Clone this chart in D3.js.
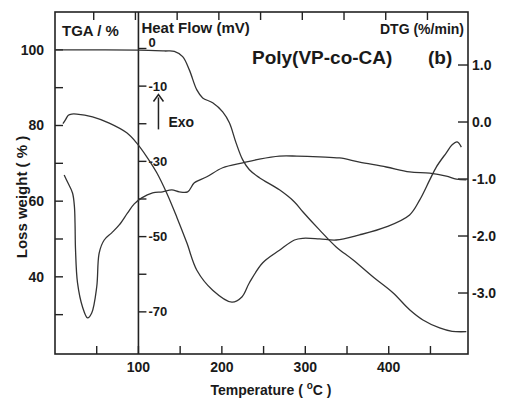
<!DOCTYPE html>
<html>
<head>
<meta charset="utf-8">
<script src="https://cdn.jsdelivr.net/npm/d3@7"></script>
<style>
  body { margin: 0; background: #fff; }
  text { font-family: "Liberation Sans", Arial, sans-serif; font-weight: bold; fill: #1a1a1a; }
</style>
</head>
<body>
<svg id="chart" width="514" height="399"></svg>
<script>
// TGA (loss weight, %)
const tgaTemp = [0, 60, 100, 131, 143, 153, 161, 170, 177, 189, 201, 209, 217, 225, 233, 245, 269, 287, 297, 317, 337, 357, 381, 405, 425, 441, 461, 476, 493];
const tgaWeight = [100, 100, 99.9, 99.7, 99.6, 98.2, 94.7, 89.4, 87.3, 86.0, 83.6, 80.7, 75.4, 70.9, 68.3, 66.2, 63.0, 59.8, 57.2, 52.4, 47.9, 44.5, 40.0, 35.8, 31.3, 28.6, 26.5, 25.6, 25.5];

// DTG (%/min)
const dtgTemp = [9.5, 13, 16, 20, 26, 45, 65, 86, 98, 110, 122, 134, 146, 158, 170, 189, 212, 224, 233, 249, 269, 287, 297, 317, 337, 365, 397, 425, 437, 449, 457, 469, 476, 482, 487];
const dtgRate = [-0.03, 0.05, 0.12, 0.14, 0.14, 0.09, -0.02, -0.19, -0.37, -0.61, -0.89, -1.25, -1.67, -2.12, -2.60, -2.95, -3.16, -3.07, -2.82, -2.47, -2.25, -2.07, -2.04, -2.05, -2.07, -1.98, -1.84, -1.63, -1.37, -1.02, -0.79, -0.54, -0.40, -0.35, -0.44];

// Heat flow (mV)
const dscTemp = [11, 15, 21, 23.3, 24, 24.6, 27, 33, 39, 44, 50, 53, 59, 68, 77, 87, 95, 104, 117, 129, 140, 149, 159, 167, 182, 201, 225, 245, 269, 290, 317, 341, 365, 397, 425, 449, 469, 481, 493];
const dscHeat = [-33.6, -35.5, -38.4, -42.1, -46.4, -53.5, -62.3, -68.7, -71.6, -70.3, -63.4, -54.3, -50.9, -49.0, -46.9, -43.7, -41.3, -39.7, -38.4, -38.1, -37.6, -38.1, -38.1, -35.7, -34.1, -31.7, -30.4, -29.4, -28.6, -28.6, -28.8, -29.1, -30.2, -31.5, -32.8, -33.1, -33.9, -34.7, -34.9];

// axis ticks
const xTicks = [50, 100, 150, 200, 250, 300, 350, 400, 450];
const xLabels = [100, 200, 300, 400];
const leftTicks = [30, 40, 50, 60, 70, 80, 90, 100];
const leftLabels = [40, 60, 80, 100];
const heatTicks = [0, -10, -20, -30, -40, -50, -60, -70];
const heatLabels = [0, -10, -30, -50, -70];
const dtgTicks = [1, 0, -1, -2, -3];

const svg = d3.select('#chart');
const margin = { top: 12, right: 46, bottom: 45, left: 55 };
const W = 514 - margin.left - margin.right;
const H = 399 - margin.top - margin.bottom;
const g = svg.append('g').attr('transform', `translate(${margin.left},${margin.top})`);

const x = d3.scaleLinear().domain([0, 495]).range([0, W]);
const yL = d3.scaleLinear().domain([19.6, 110]).range([H, 0]);
const yH = d3.scaleLinear().domain([-81.2, 9.7]).range([H, 0]);
const yR = d3.scaleLinear().domain([-4.07, 1.93]).range([H, 0]);

const ink = '#222';
const tickLen = 8;

// frame
g.append('rect').attr('width', W).attr('height', H)
  .attr('fill', 'none').attr('stroke', ink).attr('stroke-width', 1.6);
// divider at 100 C (heat flow axis)
g.append('line').attr('x1', x(100)).attr('x2', x(100)).attr('y1', 0).attr('y2', H)
  .attr('stroke', ink).attr('stroke-width', 1.6);

// bottom + top ticks
g.selectAll('.xb').data(xTicks).enter().append('line')
  .attr('x1', d => x(d)).attr('x2', d => x(d)).attr('y1', H).attr('y2', H - tickLen)
  .attr('stroke', ink).attr('stroke-width', 1.4);
g.selectAll('.xt').data(xTicks).enter().append('line')
  .attr('x1', d => x(d) - 3).attr('x2', d => x(d) - 3).attr('y1', 0).attr('y2', tickLen)
  .attr('stroke', ink).attr('stroke-width', 1.4);
g.selectAll('.xl').data(xLabels).enter().append('text')
  .attr('x', d => x(d)).attr('y', H + 18).attr('text-anchor', 'middle')
  .attr('font-size', 14).text(d => d);

// left axis
g.selectAll('.lt').data(leftTicks).enter().append('line')
  .attr('x1', 0).attr('x2', tickLen).attr('y1', d => yL(d)).attr('y2', d => yL(d))
  .attr('stroke', ink).attr('stroke-width', 1.4);
g.selectAll('.ll').data(leftLabels).enter().append('text')
  .attr('x', -11).attr('y', d => yL(d)).attr('dy', '0.35em').attr('text-anchor', 'end')
  .attr('font-size', 14).text(d => d);

// heat flow axis
g.selectAll('.ht').data(heatTicks).enter().append('line')
  .attr('x1', x(100)).attr('x2', x(100) + tickLen).attr('y1', d => yH(d)).attr('y2', d => yH(d))
  .attr('stroke', ink).attr('stroke-width', 1.4);
g.selectAll('.hl').data(heatLabels).enter().append('text')
  .attr('x', x(100) + 10).attr('y', d => yH(d) + (d === 0 ? -6 : 0)).attr('dy', '0.35em')
  .attr('font-size', 13).text(d => d);

// right DTG axis
g.selectAll('.rt').data(dtgTicks).enter().append('line')
  .attr('x1', W - 10).attr('x2', W).attr('y1', d => yR(d)).attr('y2', d => yR(d))
  .attr('stroke', ink).attr('stroke-width', 1.4);
g.selectAll('.rl').data(dtgTicks).enter().append('text')
  .attr('x', W + 4).attr('y', d => yR(d)).attr('dy', '0.35em')
  .attr('font-size', 14).text(d => d3.format('.1f')(d).replace('−', '-'));

// curves
const curveStyle = sel => sel.attr('fill', 'none').attr('stroke', '#333').attr('stroke-width', 1.3);
const tgaLine = d3.line().x(d => x(d[0])).y(d => yL(d[1])).curve(d3.curveCatmullRom);
const dtgLine = d3.line().x(d => x(d[0])).y(d => yR(d[1])).curve(d3.curveCatmullRom);
const dscLine = d3.line().x(d => x(d[0])).y(d => yH(d[1])).curve(d3.curveCatmullRom);

g.append('path').attr('d', tgaLine(d3.zip(tgaTemp, tgaWeight))).call(curveStyle);
g.append('path').attr('d', dtgLine(d3.zip(dtgTemp, dtgRate))).call(curveStyle);
g.append('path').attr('d', dscLine(d3.zip(dscTemp, dscHeat))).call(curveStyle);

// labels inside
g.append('text').attr('x', 7).attr('y', 24).attr('font-size', 15).text('TGA / %');
g.append('text').attr('x', x(100) + 3).attr('y', 21).attr('font-size', 15).text('Heat Flow (mV)');
g.append('text').attr('x', W - 4).attr('y', 22).attr('text-anchor', 'end').attr('font-size', 14).text('DTG (%/min)');
g.append('text').attr('x', 197).attr('y', 52).attr('font-size', 19).text('Poly(VP-co-CA)');
g.append('text').attr('x', 373).attr('y', 52).attr('font-size', 19).text('(b)');

// Exo arrow
const ax = x(124);
g.append('path').attr('d', `M${ax - 5},${yH(-12.5) + 6}L${ax},${yH(-12.5) - 1}L${ax + 5},${yH(-12.5) + 6}`)
  .attr('fill', 'none').attr('stroke', ink).attr('stroke-width', 1.5);
g.append('line').attr('x1', ax).attr('x2', ax).attr('y1', yH(-13)).attr('y2', yH(-21.5))
  .attr('stroke', ink).attr('stroke-width', 1.5);
g.append('text').attr('x', ax + 10).attr('y', yH(-20.8)).attr('font-size', 14).text('Exo');

// axis titles
const xt = svg.append('text').attr('x', 271).attr('y', 395).attr('text-anchor', 'middle').attr('font-size', 14);
xt.append('tspan').text('Temperature ( ');
xt.append('tspan').attr('font-size', 10).attr('dy', -6).text('o');
xt.append('tspan').attr('dy', 6).text('C )');

svg.append('text').attr('transform', 'translate(27,197) rotate(-90)')
  .attr('text-anchor', 'middle').attr('font-size', 15).text('Loss weight ( % )');
</script>
</body>
</html>
